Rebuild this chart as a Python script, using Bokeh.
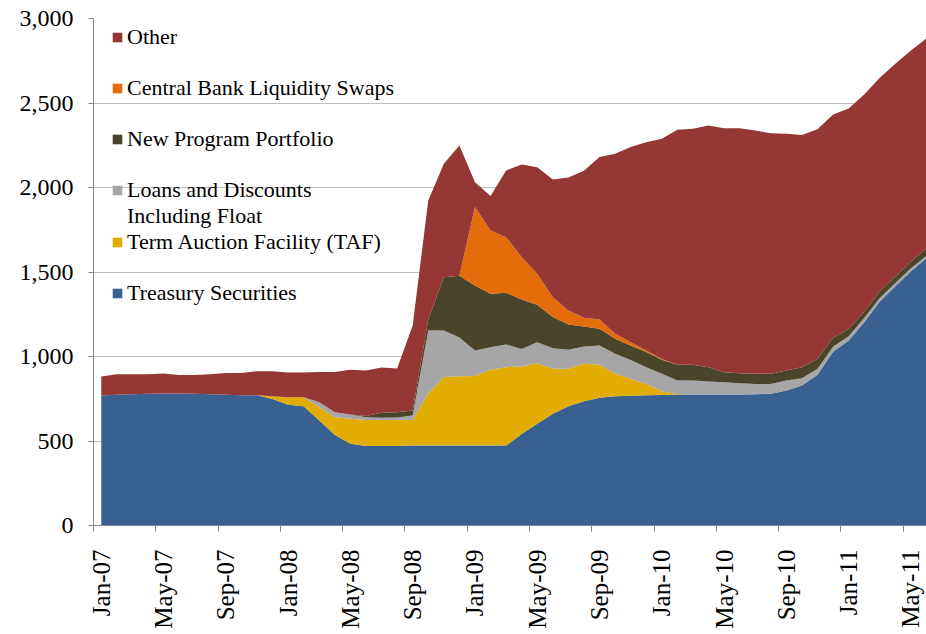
import math
from bokeh.plotting import figure
from bokeh.models import (ColumnDataSource, Range1d, FixedTicker, NumeralTickFormatter,
                          Legend, LegendItem)
from bokeh.embed import file_html
from bokeh.resources import INLINE

FONT = "Liberation Serif"

months = [
    "Jan-07", "Feb-07", "Mar-07", "Apr-07", "May-07", "Jun-07", "Jul-07", "Aug-07", "Sep-07", "Oct-07", "Nov-07", "Dec-07",
    "Jan-08", "Feb-08", "Mar-08", "Apr-08", "May-08", "Jun-08", "Jul-08", "Aug-08", "Sep-08", "Oct-08", "Nov-08", "Dec-08",
    "Jan-09", "Feb-09", "Mar-09", "Apr-09", "May-09", "Jun-09", "Jul-09", "Aug-09", "Sep-09", "Oct-09", "Nov-09", "Dec-09",
    "Jan-10", "Feb-10", "Mar-10", "Apr-10", "May-10", "Jun-10", "Jul-10", "Aug-10", "Sep-10", "Oct-10", "Nov-10", "Dec-10",
    "Jan-11", "Feb-11", "Mar-11", "Apr-11", "May-11", "Jun-11",
]

tick_labels = ["Jan-07", "May-07", "Sep-07", "Jan-08", "May-08", "Sep-08", "Jan-09",
               "May-09", "Sep-09", "Jan-10", "May-10", "Sep-10", "Jan-11", "May-11"]

y_ticks = [0, 500, 1000, 1500, 2000, 2500, 3000]

treasury = [769, 773, 776, 779, 781, 781, 779, 777, 773, 771, 771,
            749, 714, 706, 621, 536, 483, 471, 471, 471,
            473, 473, 473, 473, 473, 473, 473,
            542, 602, 661, 705, 735, 756, 765, 768, 770, 772,
            775, 775, 775, 775, 775, 777, 779,
            799, 828, 892, 1028, 1095, 1203, 1326, 1415, 1504, 1583]

taf = [0, 0, 0, 0, 0, 0, 0, 0, 0, 0, 0,
       16, 45, 53, 79, 105, 148, 154, 154, 154,
       152, 306, 405, 410, 411, 448, 464,
       399, 358, 266, 222, 222, 197, 133, 100, 68, 22,
       3, 0, 0, 0, 0, 0, 0,
       0, 0, 0, 0, 0, 0, 0, 0, 0, 0]

loans = [0, 0, 0, 0, 0, 0, 0, 0, 0, 0, 0,
         0, 0, 0, 30, 29, 26, 16, 12, 14,
         26, 375, 276, 230, 152, 134, 134,
         104, 125, 122, 113, 102, 112, 118, 112, 99, 104,
         80, 83, 77, 73, 67, 61, 59,
         59, 44, 35, 30, 25, 25, 20, 20, 18, 12]

new_program = [0, 0, 0, 0, 0, 0, 0, 0, 0, 0, 0,
               0, 0, 0, 0, 0, 0, 7, 30, 31,
               29, 66, 315, 365, 384, 316, 306,
               292, 221, 184, 149, 119, 99, 89, 85, 89, 83,
               93, 93, 85, 59, 59, 60, 60,
               59, 65, 59, 53, 42, 37, 39, 39, 39, 45]

swaps = [0, 0, 0, 0, 0, 0, 0, 0, 0, 0, 0,
         0, 0, 0, 0, 0, 0, 0, 0, 0,
         0, 0, 0, 0, 464, 375, 329,
         251, 183, 118, 83, 51, 55, 29, 20, 10, 4,
         0, 0, 0, 0, 0, 0, 0,
         0, 0, 0, 0, 0, 0, 0, 0, 0, 0]

other = [113, 122, 119, 116, 118, 110, 112, 118, 130, 132, 142,
         148, 146, 146, 179, 239, 264, 269, 268, 259,
         503, 703, 671, 771, 147, 203, 395,
         548, 631, 696, 787, 870, 962, 1065, 1155, 1232, 1303,
         1390, 1396, 1430, 1444, 1450, 1439, 1423,
         1401, 1373, 1359, 1321, 1306, 1285, 1264, 1258, 1250, 1242]

series = ["treasury", "taf", "loans", "new_program", "swaps", "other"]
colors = ["#386192", "#E2AC00", "#A6A6A6", "#4A452A", "#E46C0A", "#953735"]

src = ColumnDataSource(dict(x=list(range(len(months))), treasury=treasury, taf=taf,
                            loans=loans, new_program=new_program, swaps=swaps, other=other))

p = figure(width=926, height=634, output_backend="svg", toolbar_location=None,
           x_range=Range1d(-0.5, len(months) - 1), y_range=Range1d(y_ticks[0], y_ticks[-1]),
           min_border_left=93, min_border_right=0, min_border_top=18, min_border_bottom=109)
p.outline_line_color = None
p.background_fill_color = "white"

rs = p.varea_stack(stackers=series, x="x", color=colors, source=src)

# axes
p.yaxis.ticker = FixedTicker(ticks=y_ticks)
p.yaxis.formatter = NumeralTickFormatter(format="0,0")
p.yaxis.major_label_text_font = FONT
p.yaxis.major_label_text_font_size = "24px"
p.yaxis.major_label_text_color = "black"
p.yaxis.major_tick_out = 5
p.yaxis.major_tick_in = 0
p.yaxis.minor_tick_out = 0
p.yaxis.minor_tick_in = 0
p.yaxis.axis_line_color = "#868686"
p.yaxis.major_tick_line_color = "#868686"
p.yaxis.major_label_standoff = 15

major_idx = [months.index(t) for t in tick_labels]
minor_idx = [i - 0.5 for i in major_idx]
p.xaxis.ticker = FixedTicker(ticks=major_idx, minor_ticks=minor_idx)
p.xaxis.major_label_overrides = {i: t for i, t in zip(major_idx, tick_labels)}
p.xaxis.major_label_orientation = math.pi / 2
p.xaxis.major_label_text_font = FONT
p.xaxis.major_label_text_font_size = "25px"
p.xaxis.major_label_text_color = "black"
p.xaxis.major_tick_out = 0
p.xaxis.major_tick_in = 0
p.xaxis.minor_tick_out = 6
p.xaxis.minor_tick_in = 0
p.xaxis.minor_tick_line_color = "#868686"
p.xaxis.axis_line_color = "#868686"
p.xaxis.major_label_standoff = 18

p.xgrid.visible = False
p.ygrid.grid_line_color = "#BEBEBE"
p.ygrid.grid_line_width = 1

# legend (blank rows reproduce the original spacing)
blank = p.scatter(x=[], y=[], alpha=0)
items = [
    LegendItem(label="Other", renderers=[rs[5]]),
    LegendItem(label=" ", renderers=[blank]),
    LegendItem(label="Central Bank Liquidity Swaps", renderers=[rs[4]]),
    LegendItem(label=" ", renderers=[blank]),
    LegendItem(label="New Program Portfolio", renderers=[rs[3]]),
    LegendItem(label=" ", renderers=[blank]),
    LegendItem(label="Loans and Discounts", renderers=[rs[2]]),
    LegendItem(label="Including Float", renderers=[blank]),
    LegendItem(label="Term Auction Facility (TAF)", renderers=[rs[1]]),
    LegendItem(label=" ", renderers=[blank]),
    LegendItem(label="Treasury Securities", renderers=[rs[0]]),
]
legend = Legend(items=items, location=(18, 219), padding=0, margin=0, spacing=0,
                label_height=25, glyph_height=12, glyph_width=12, label_standoff=4,
                background_fill_alpha=0, border_line_color=None,
                label_text_font=FONT, label_text_font_size="22px", label_text_color="black")
p.add_layout(legend)

open("out.html", "w").write(file_html(p, INLINE))
